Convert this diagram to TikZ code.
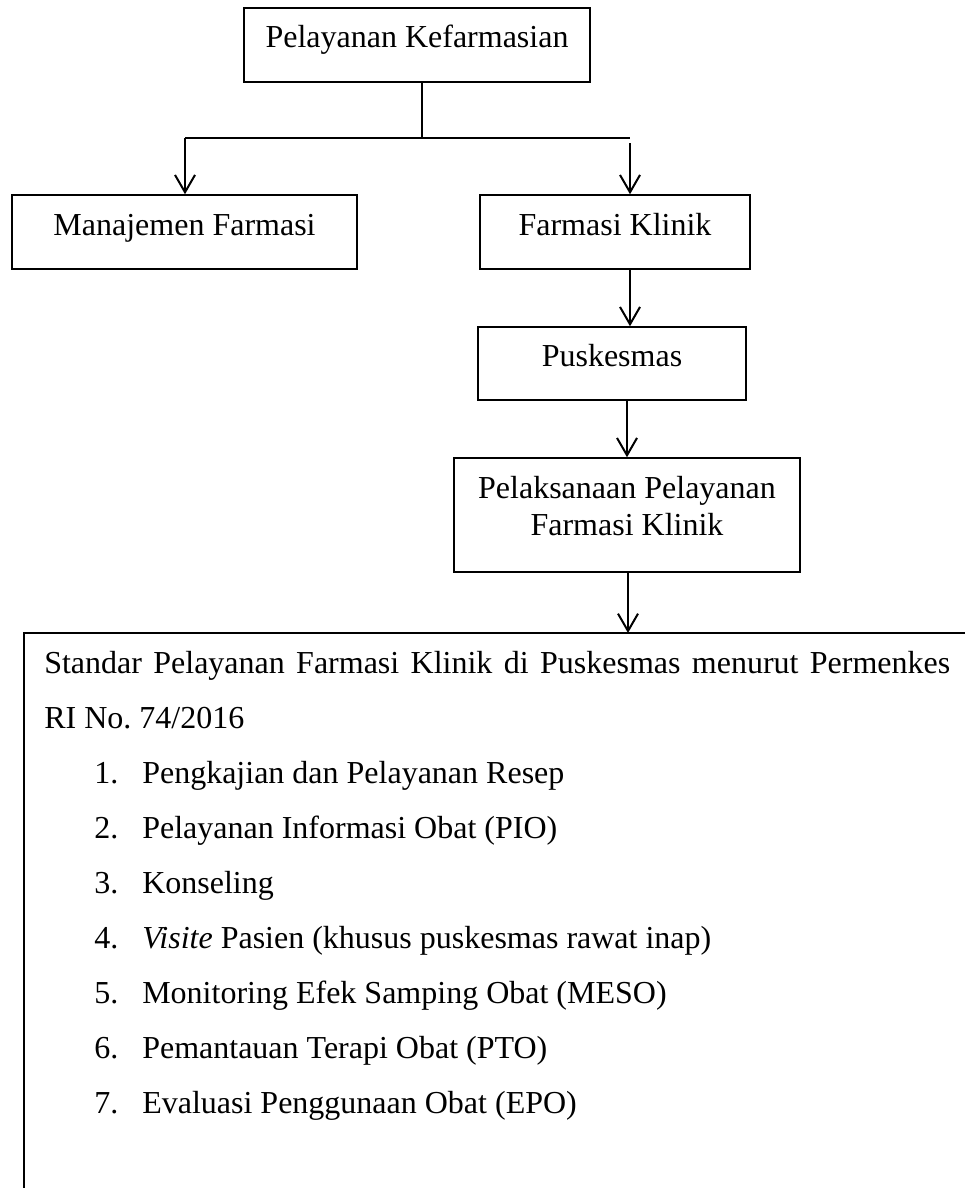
\documentclass[tikz,border=0pt]{standalone}
\usepackage{fontspec}
\setmainfont{Liberation Serif}
\usetikzlibrary{arrows.meta}
\frenchspacing
\def\PX{0.75pt}
\tikzset{
  boxnode/.style={draw=black, line width=1.1pt, inner sep=0pt},
  txt/.style={inner sep=0pt, anchor=base, font=\fontsize{24}{28}\selectfont},
  ltxt/.style={inner sep=0pt, anchor=base west, font=\fontsize{24}{28}\selectfont},
  conn/.style={line width=1.5pt},
  arr/.style={line width=1.5pt, -{Straight Barb[length=13pt,width=15pt]}},
}
\begin{document}
\begin{tikzpicture}[x=0.75pt,y=-0.75pt]
\useasboundingbox (0,0) rectangle (964,1188);
% boxes
\node[boxnode, minimum width=346*\PX, minimum height=74*\PX] (b1) at (417,45) {};
\node[boxnode, minimum width=345*\PX, minimum height=74*\PX] (b2) at (184.5,232) {};
\node[boxnode, minimum width=270*\PX, minimum height=74*\PX] (b3) at (615,232) {};
\node[boxnode, minimum width=268*\PX, minimum height=73*\PX] (b4) at (612,363.5) {};
\node[boxnode, minimum width=346*\PX, minimum height=114*\PX] (b5) at (627,515) {};
% box texts
\node[txt] (t1) at (417,48) {Pelayanan Kefarmasian};
\node[txt] (t2) at (184.5,235) {Manajemen Farmasi};
\node[txt] (t3) at (615,235) {Farmasi Klinik};
\node[txt] (t4) at (612,366) {Puskesmas};
\node[txt] (t5a) at (627,498) {Pelaksanaan Pelayanan};
\node[txt] (t5b) at (627,535) {Farmasi Klinik};
% connector coordinates
\coordinate (j) at (422,138);
\coordinate (hl) at (185,138);
\coordinate (hr) at (630,138);
\coordinate (rs) at (630,143);
\coordinate (c1) at (630,300);
\coordinate (c2) at (627,430);
\coordinate (c3) at (628,600);
\coordinate (bigtop) at (628,633);
\coordinate (bigtl) at (24,633);
\coordinate (bigtr) at (975,633);
\coordinate (bigbl) at (24,1200);
% connectors
\draw[line width=1pt] (b1.south -| j) -- (j);
\draw[line width=2pt] (hl) -- (hr);
\draw[arr] (hl) -- (b2.north -| hl);
\draw[arr] (rs) -- (b3.north -| rs);
\draw[arr] (b3.south -| c1) -- (b4.north -| c1);
\draw[arr] (b4.south -| c2) -- (b5.north -| c2);
\draw[arr] (b5.south -| c3) -- (bigtop);
% big open box
\draw[line width=1.1pt] (bigtr) -- (bigtl) -- (bigbl);
% list text
\node[ltxt] (s1) at (44,673) {\makebox[679.5pt][s]{Standar Pelayanan Farmasi Klinik di Puskesmas menurut Permenkes}};
\node[ltxt] (s2) at (44,728) {RI No. 74/2016};
\node[ltxt] (n1) at (94,783) {1.};
\node[ltxt] (i1) at (142,783) {Pengkajian dan Pelayanan Resep};
\node[ltxt] (n2) at (94,838) {2.};
\node[ltxt] (i2) at (142,838) {Pelayanan Informasi Obat (PIO)};
\node[ltxt] (n3) at (94,893) {3.};
\node[ltxt] (i3) at (142,893) {Konseling};
\node[ltxt] (n4) at (94,948) {4.};
\node[ltxt] (i4) at (142,948) {\textit{Visite} Pasien (khusus puskesmas rawat inap)};
\node[ltxt] (n5) at (94,1003) {5.};
\node[ltxt] (i5) at (142,1003) {Monitoring Efek Samping Obat (MESO)};
\node[ltxt] (n6) at (94,1058) {6.};
\node[ltxt] (i6) at (142,1058) {Pemantauan Terapi Obat (PTO)};
\node[ltxt] (n7) at (94,1113) {7.};
\node[ltxt] (i7) at (142,1113) {Evaluasi Penggunaan Obat (EPO)};
\end{tikzpicture}
\end{document}
